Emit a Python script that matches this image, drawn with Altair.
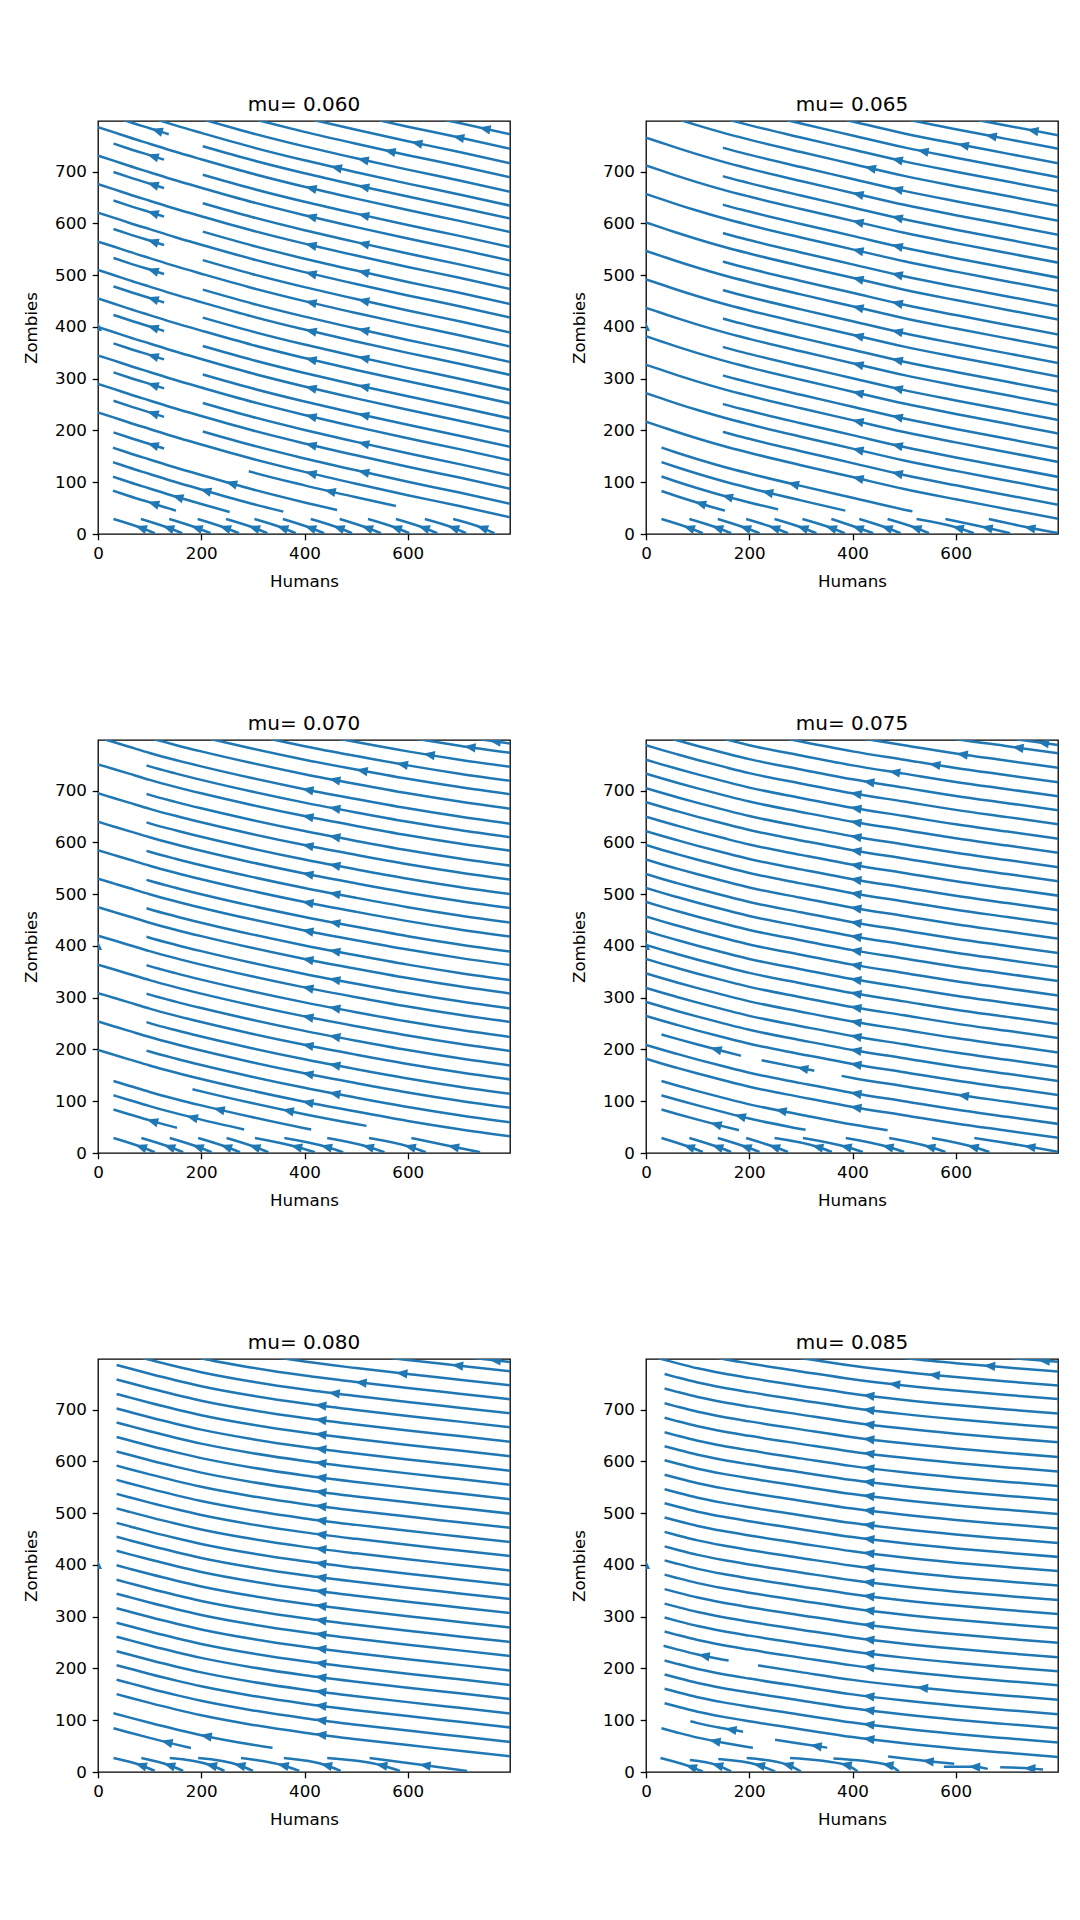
import math
import numpy as np
import pandas as pd
import altair as alt

BLUE = "#1f77b4"
FONT = "DejaVu Sans"

TITLES = ["mu= 0.060", "mu= 0.065", "mu= 0.070", "mu= 0.075", "mu= 0.080", "mu= 0.085"]
X_TICKS = [0, 200, 400, 600]
Y_TICKS = [0, 100, 200, 300, 400, 500, 600, 700]

# Shape of one streamline in each panel: how far Zombies has dropped below its
# value at Humans = 0, read at these Humans positions.
PROFILE_H = [0, 30, 60, 100, 150, 200, 300, 400, 500, 600, 700, 800]
DROP_1 = [0, 9.6, 19.5, 32, 47.5, 62, 90, 115, 138, 160, 181, 203]
DROP_2 = [0, 10, 20, 32.5, 47, 60, 84, 107, 130, 150, 169, 188]
DROP_3 = [0, 9, 18, 30, 43.5, 56, 79, 100, 119, 137, 153, 167]
DROP_4 = [0, 9, 17.5, 28.5, 41.5, 54, 74, 93, 109, 125, 139, 153]
DROP_5 = [0, 8, 16, 26.5, 39, 50.5, 69, 84, 96.5, 108, 119, 130]
DROP_6 = [0, 8, 16, 26, 36, 44.5, 60, 75, 87, 97, 105.5, 113.5]

# Streamline pieces: (Zombies level at Humans=0, start Humans, end Humans, arrow Humans)
STREAMS_1 = [
    ([786, 731, 676, 621, 565, 510, 455, 400, 345, 290, 235], 0, 800, 412),
    ([764, 709, 654, 599, 543, 488, 433, 378, 322, 267, 206], 30, 128, 106),
    ([816], 45, 137, 114),
    ([812, 757, 702, 647, 592, 535, 481, 426, 371, 316, 261], 203, 800, 514),
    ([837], 110, 800, 461),
    ([864], 200, 800, 513),
    ([892], 305, 800, 565),
    ([919], 415, 800, 617),
    ([947], 540, 800, 698),
    ([975], 665, 800, 749),
    ([176], 29, 463, 258),
    ([148], 29, 359, 208),
    ([120], 29, 255, 154),
    ([93], 29, 151, 107),
    ([209], 292, 577, 449),
]
STREAMS_2 = [
    ([766, 712, 657, 602, 547, 492, 437, 382, 327, 272, 217], 0, 800, 410),
    ([793, 738, 683, 628, 573, 518, 463, 408, 353, 298, 244], 149, 800, 486),
    ([822], 60, 800, 434),
    ([850], 160, 800, 486),
    ([877], 265, 800, 536),
    ([904], 385, 800, 614),
    ([932], 505, 800, 668),
    ([958], 635, 800, 749),
    ([177], 30, 516, 285),
    ([149], 30, 386, 235),
    ([121], 30, 256, 157),
    ([93], 30, 153, 105),
]
STREAMS_3 = [
    ([803, 751, 695, 640, 585, 530, 475, 420, 364, 309, 254, 199], 0, 800, 406),
    ([777, 722, 667, 612, 556, 501, 446, 391, 336, 281, 226], 94, 800, 458),
    ([832], 100, 800, 458),
    ([860], 215, 800, 511),
    ([886], 325, 800, 589),
    ([913], 465, 800, 641),
    ([940], 610, 800, 720),
    ([958], 730, 800, 769),
    ([148], 30, 413, 234),
    ([120.5], 30, 283, 182),
    ([93], 30, 153, 105),
    ([175], 183, 520, 368),
]
STREAMS_4 = [
    ([788, 760, 733, 705, 678, 650, 622, 595, 567, 539, 512, 485, 457, 429, 402,
      375, 347, 319, 292, 265, 209, 182], 0, 800, 406),
    ([238], 30, 184, 135),
    ([238], 224, 326, 303),
    ([238], 379, 800, 614),
    ([815], 40, 800, 431),
    ([842], 150, 800, 481),
    ([869], 270, 800, 559),
    ([897], 420, 800, 612),
    ([925], 590, 800, 720),
    ([941], 710, 800, 769),
    ([148], 30, 468, 261),
    ([120.5], 30, 309, 182),
    ([93], 30, 180, 135),
]
STREAMS_5 = [
    ([796, 768, 740, 712, 685, 657, 629, 601.5, 574, 547, 519, 491, 464, 437, 409,
      381, 354, 326, 298, 271, 243, 216, 188, 160], 36, 800, 431),
    ([823], 85, 800, 457),
    ([850], 195, 800, 509),
    ([877], 350, 800, 588),
    ([904], 570, 800, 696),
    ([922], 720, 800, 769),
    ([121.6], 30, 338, 209),
    ([92.4], 30, 180, 133),
]
STREAMS_6 = [
    ([778.5, 750.5, 722, 694, 666, 639, 612, 584, 556, 529, 501.5, 473.5, 445.5,
      418.5, 391, 363, 335, 308, 281, 225, 198, 170.5, 142.5], 36, 800, 431),
    ([253], 34, 160, 112),
    ([253], 217, 800, 535),
    ([806], 0, 800, 431),
    ([834], 135, 800, 481),
    ([860], 290, 800, 558),
    ([887], 485, 800, 665),
    ([906], 695, 800, 771),
    ([92.4], 30, 207, 133),
    ([120.4], 86, 188, 164),
    ([114.7], 250, 351, 329),
]

# Short hooked streamlines along the bottom: Humans at start, arrow, end
HOOKS_1 = ([30, 83, 138, 193, 248, 303, 358, 412, 468, 523, 577, 633, 688],
           [83, 136, 191, 246, 302, 357, 411, 466, 521, 577, 631, 688, 744],
           [110, 163, 218, 273, 328, 383, 438, 492, 548, 603, 657, 713, 768])
HOOKS_2 = ([30, 84, 139, 194, 249, 303, 359, 413, 468, 524, 580, 664],
           [83, 138, 192, 248, 303, 358, 410, 466, 522, 604, 660, 743],
           [110, 165, 220, 275, 330, 385, 440, 493, 548, 635, 705, 800])
HOOKS_3 = ([30, 84, 139, 194, 249, 304, 361, 444, 525, 607],
           [83, 138, 193, 248, 303, 384, 442, 523, 604, 688],
           [110, 165, 220, 275, 330, 420, 475, 555, 635, 740])
HOOKS_4 = ([30, 84, 139, 194, 249, 304, 387, 471, 554, 636],
           [83, 138, 193, 248, 332, 387, 468, 549, 633, 743],
           [110, 165, 220, 275, 360, 420, 500, 580, 665, 800])
HOOKS_5 = ([30, 84, 139, 194, 277, 360, 444, 526],
           [83, 138, 219, 274, 358, 442, 549, 633],
           [110, 165, 245, 300, 390, 470, 585, 715])
HOOKS_6 = ([28, 85, 140, 195, 279, 363, 469, 577, 686],
           [87, 138, 219, 274, 387, 468, 546, 636, 743],
           [110, 165, 250, 300, 410, 490, 597, 662, 769])
# Zombies at start, arrow, end of the hooks
HOOK_Z_1 = (29, 12, 1.5)
HOOK_Z_2 = (29, 12, 1.5)
HOOK_Z_3 = (29, 12, 1.5)
HOOK_Z_4 = (29, 12, 2)
HOOK_Z_5 = (27, 13, 2)
HOOK_Z_6 = ([27, 23, 25, 27, 27, 26, 30, 10, 9],
            [10, 13, 13, 14, 14, 14, 21, 10, 7],
            [1, 1, 1, 1, 1, 1, 16, 6, 5])

# small arrow sitting on the Humans = 0 axis
EDGE_MARK_H = [0]
EDGE_MARK_Z = [400]

PANELS = [
    (DROP_1, STREAMS_1, HOOKS_1, HOOK_Z_1),
    (DROP_2, STREAMS_2, HOOKS_2, HOOK_Z_2),
    (DROP_3, STREAMS_3, HOOKS_3, HOOK_Z_3),
    (DROP_4, STREAMS_4, HOOKS_4, HOOK_Z_4),
    (DROP_5, STREAMS_5, HOOKS_5, HOOK_Z_5),
    (DROP_6, STREAMS_6, HOOKS_6, HOOK_Z_6),
]

ARROW = "M -1 0 L 1 -0.8 L 1 0.8 Z"
UP_ARROW = "M 0 -1 L 0.8 0.8 L -0.8 0.8 Z"


def as_list(v, n):
    return list(v) if isinstance(v, (list, tuple)) else [v] * n


def build(drop, streams, hooks, hook_z):
    seg, arr = [], []
    sid = 0
    for cs, h0, h1, ha in streams:
        for c in cs:
            hs = [h0] + [h for h in PROFILE_H if h0 < h < h1] + [h1]
            for k, h in enumerate(hs):
                seg.append({"seg": sid, "k": k, "H": h,
                            "Z": c - float(np.interp(h, PROFILE_H, drop))})
            za = c - float(np.interp(ha, PROFILE_H, drop))
            s = (float(np.interp(ha + 10, PROFILE_H, drop)) -
                 float(np.interp(ha - 10, PROFILE_H, drop))) / 20.0
            arr.append({"H": ha, "Z": za, "ang": math.degrees(math.atan(s))})
            sid += 1
    starts, arrows, ends = hooks
    n = len(starts)
    z0s, zas, z1s = (as_list(v, n) for v in hook_z)
    for i in range(n):
        pts = [(starts[i], z0s[i]), (arrows[i], zas[i]), (ends[i], z1s[i])]
        for k, (h, z) in enumerate(pts):
            seg.append({"seg": sid, "k": k, "H": h, "Z": z})
        s = (z0s[i] - z1s[i]) / (ends[i] - starts[i])
        arr.append({"H": arrows[i], "Z": zas[i], "ang": math.degrees(math.atan(s))})
        sid += 1
    return pd.DataFrame(seg), pd.DataFrame(arr)


XS = alt.Scale(domain=[0, 798], nice=False, zero=False)
YS = alt.Scale(domain=[0, 798], nice=False, zero=False)
AX_KW = dict(labelFont=FONT, titleFont=FONT, labelFontSize=16.7, titleFontSize=16.7,
             titleFontWeight="normal", labelColor="black", titleColor="black",
             tickColor="black", tickSize=5.8, tickWidth=1.3, labelPadding=5.8,
             grid=False, domain=False, labelFlush=False)


def panel(i):
    drop, streams, hooks, hook_z = PANELS[i]
    seg_df, arr_df = build(drop, streams, hooks, hook_z)
    x = alt.X("H:Q", scale=XS,
              axis=alt.Axis(values=X_TICKS, title="Humans", titlePadding=11, **AX_KW))
    y = alt.Y("Z:Q", scale=YS,
              axis=alt.Axis(values=Y_TICKS, title="Zombies", titlePadding=14, **AX_KW))
    lines = alt.Chart(seg_df).mark_line(
        color=BLUE, strokeWidth=2.5, interpolate="monotone", clip=True
    ).encode(x=x, y=y, detail="seg:N", order="k:Q")
    arrows = alt.Chart(arr_df).mark_point(
        shape=ARROW, filled=True, size=135, color=BLUE, opacity=1,
        strokeWidth=0, clip=True
    ).encode(x=x, y=y, angle=alt.Angle("ang:Q", scale=None))
    edge = alt.Chart(pd.DataFrame({"H": EDGE_MARK_H, "Z": EDGE_MARK_Z})).mark_point(
        shape=UP_ARROW, filled=True, size=100, color=BLUE, opacity=1,
        strokeWidth=0, clip=True
    ).encode(x=x, y=y)
    return alt.layer(lines, arrows, edge).properties(
        width=412, height=413,
        title=alt.TitleParams(TITLES[i], fontSize=20, font=FONT,
                              fontWeight="normal", anchor="middle",
                              offset=-14, baseline="bottom", color="black"),
    )


chart = alt.concat(
    *[panel(i) for i in range(6)], columns=2,
    spacing={"row": 206, "column": 136}, bounds="flush"
).properties(
    padding={"left": 22, "top": 94, "right": 20, "bottom": 40}
).configure(
    background="white"
).configure_view(
    stroke="black", strokeWidth=1.3
).configure_axis(
    labelFont=FONT, titleFont=FONT, labelFontSize=16.7, titleFontSize=16.7,
    titleFontWeight="normal", labelColor="black", titleColor="black",
    tickColor="black", tickSize=5.8, tickWidth=1.3, labelPadding=5.8,
    grid=False, domain=False
)

chart.save("out.html", embed_options={"renderer": "svg", "actions": False})
